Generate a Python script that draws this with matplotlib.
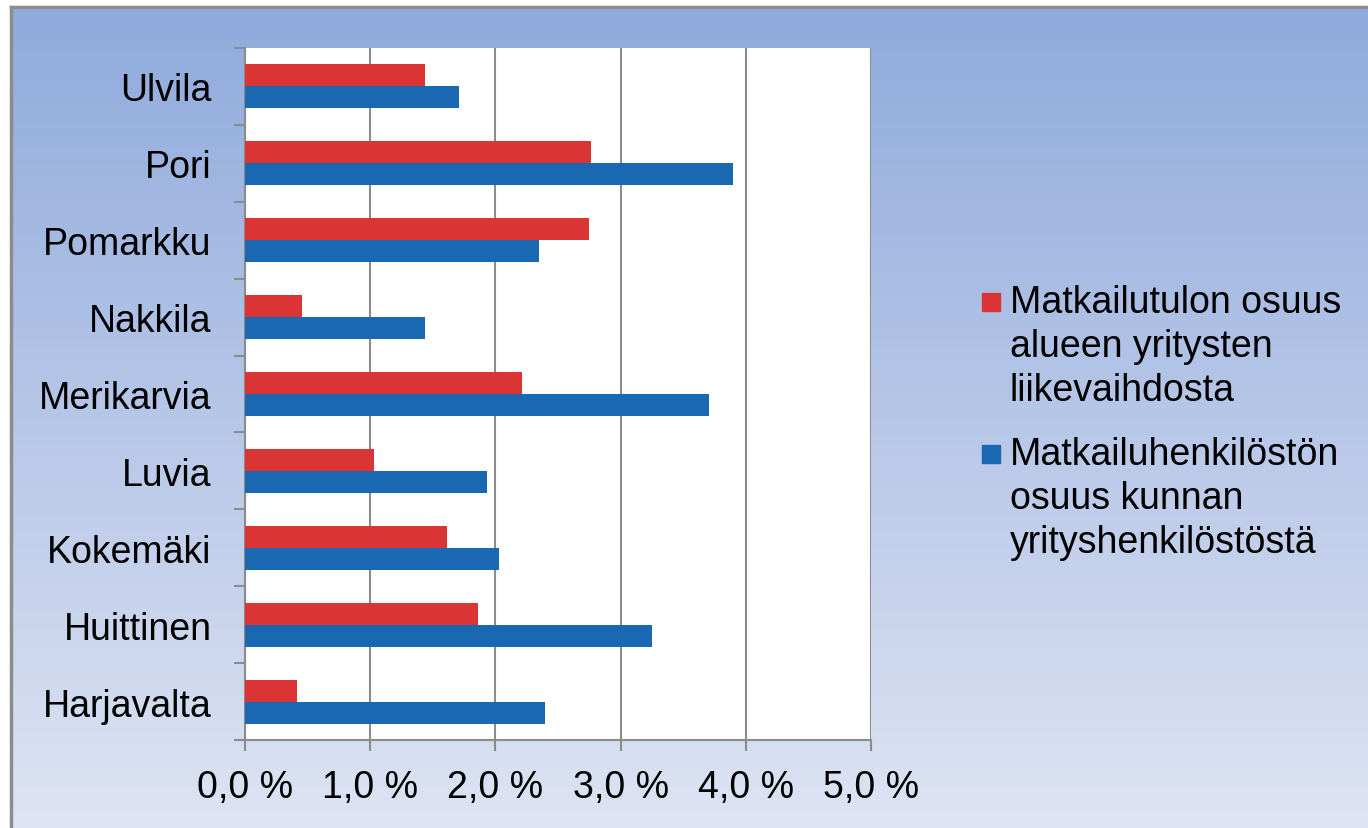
import matplotlib
matplotlib.use("Agg")
import matplotlib.pyplot as plt
import numpy as np
from matplotlib.colors import LinearSegmentedColormap
from matplotlib.patches import Rectangle
from matplotlib.lines import Line2D

categories = ["Harjavalta", "Huittinen", "Kokemäki", "Luvia", "Merikarvia",
              "Nakkila", "Pomarkku", "Pori", "Ulvila"]
tulo = [0.415, 1.86, 1.61, 1.03, 2.21, 0.455, 2.75, 2.76, 1.435]
henkilosto = [2.40, 3.25, 2.03, 1.93, 3.71, 1.435, 2.35, 3.90, 1.71]
series_labels = [["Matkailutulon osuus", "alueen yritysten", "liikevaihdosta"],
                 ["Matkailuhenkilöstön", "osuus kunnan", "yrityshenkilöstöstä"]]
xticks = [0, 1, 2, 3, 4, 5]
xtick_labels = ["0,0 %", "1,0 %", "2,0 %", "3,0 %", "4,0 %", "5,0 %"]

RED = "#DA3434"
BLUE = "#1A68B1"
W, H = 1368, 829
plt.rcParams['font.family'] = ['Liberation Sans', 'DejaVu Sans']

fig = plt.figure(figsize=(W / 100, H / 100), dpi=100)
fig.patch.set_facecolor("white")

# background gradient panel
bg = fig.add_axes([11 / W, 0, (W - 11) / W, (H - 8) / H], zorder=0)
cmap = LinearSegmentedColormap.from_list("bg", ["#DEE4F3", "#8FAADC"])
grad = np.linspace(0, 1, 256).reshape(-1, 1)
bg.imshow(grad, aspect="auto", cmap=cmap, origin="lower", extent=[0, 1, 0, 1])
bg.set_xlim(0, 1)
bg.set_ylim(0, 1)
bg.set_axis_off()
fig.add_artist(Line2D([11 / W, 1], [(H - 8) / H, (H - 8) / H], color="#8C8C8C", lw=2.5,
                      transform=fig.transFigure, zorder=1))
fig.add_artist(Line2D([11 / W, 11 / W], [0, (H - 8) / H], color="#8C8C8C", lw=2.5,
                      transform=fig.transFigure, zorder=1))

x0, x1, y_top, y_bot = 245, 871, 49, 741
ax = fig.add_axes([x0 / W, (H - y_bot) / H, (x1 - x0) / W, (y_bot - y_top) / H], zorder=2)
ax.set_facecolor("white")

y = np.arange(len(categories))
h = 0.286
ax.barh(y + h / 2, tulo, height=h, color=RED, zorder=3)
ax.barh(y - h / 2, henkilosto, height=h, color=BLUE, zorder=3)

ax.set_xlim(0, 5)
ax.set_ylim(-0.5, len(categories) - 0.5)
ax.set_xticks(xticks)
ax.set_xticklabels(xtick_labels, fontsize=27)
ax.set_yticks(y)
ax.set_yticklabels(categories, fontsize=27)
ax.set_yticks(np.arange(-0.5, len(categories), 1), minor=True)
ax.tick_params(axis="y", which="major", length=0, pad=24)
ax.tick_params(axis="y", which="minor", length=8, width=1.5, color="#8C8C8C", direction="out")
ax.tick_params(axis="x", which="major", length=8, width=1.5, color="#8C8C8C", direction="out", pad=13)
ax.grid(axis="x", color="#8C8C8C", lw=1.5, zorder=1)
ax.set_axisbelow(True)
for s in ["top", "right"]:
    ax.spines[s].set_visible(False)
for s in ["left", "bottom"]:
    ax.spines[s].set_color("#8C8C8C")
    ax.spines[s].set_linewidth(1.5)

# legend (handle aligned with first line of each multi-line label)
legend_colors = [RED, BLUE]
first_baselines = [313, 465]
line_pitch = 44
for lines, col, b0 in zip(series_labels, legend_colors, first_baselines):
    fig.add_artist(Rectangle((982 / W, 1 - (b0 - 1) / H), 18 / W, 18 / H,
                             transform=fig.transFigure, color=col, zorder=3))
    for k, line in enumerate(lines):
        fig.text(1010 / W, 1 - (b0 + k * line_pitch) / H, line, fontsize=27,
                 va="baseline", ha="left", color="black", zorder=3)

fig.savefig("out.png", dpi=100)
